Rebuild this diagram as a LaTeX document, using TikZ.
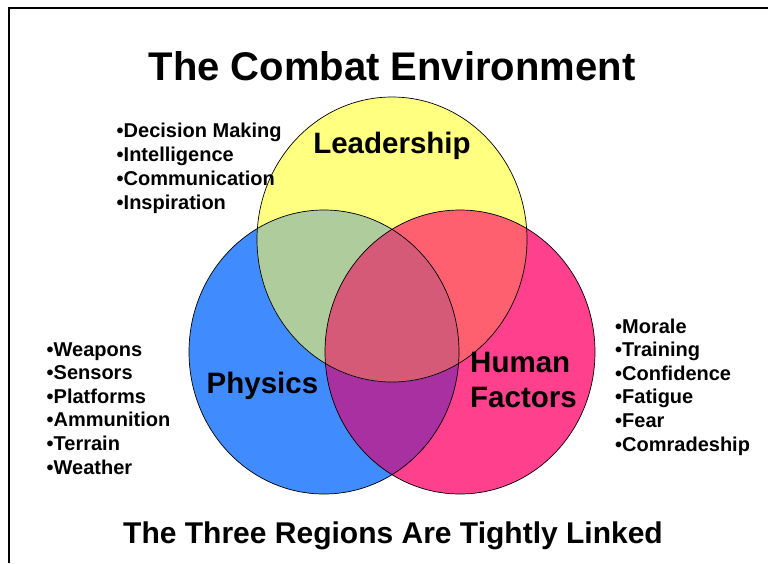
\documentclass[tikz,border=0pt]{standalone}
\usepackage{fontspec}
\setmainfont{Liberation Sans}
\usetikzlibrary{positioning}

\definecolor{physblue}{HTML}{408CFF}
\definecolor{humpink}{HTML}{FF408C}
\definecolor{leadyellow}{HTML}{FFFF80}
\definecolor{blueyellow}{HTML}{AECC9C}
\definecolor{pinkyellow}{HTML}{FF6070}
\definecolor{bluepink}{HTML}{A830A0}
\definecolor{allthree}{HTML}{D45A78}

\begin{document}
\begin{tikzpicture}[x=1pt,y=-1pt,
	title/.style={font=\fontsize{40}{44}\selectfont\bfseries},
	region/.style={font=\fontsize{29.5}{34}\selectfont\bfseries},
	item/.style={font=\fontsize{20}{24}\selectfont\bfseries, anchor=base west, inner sep=0pt},
	rim/.style={draw=black, line width=0.7pt}]
	
	\useasboundingbox (0,0) rectangle (768,563);
	\draw[line width=2pt] (9,563) -- (9,8) -- (768,8);
	
	% the three circles, blue under pink under yellow
	\fill[physblue] (324,352) ellipse [x radius=135pt, y radius=142pt];
	\fill[humpink] (460,352) ellipse [x radius=135pt, y radius=142pt];
	\begin{scope}
		\clip (324,352) ellipse [x radius=135pt, y radius=142pt];
		\fill[bluepink] (460,352) ellipse [x radius=135pt, y radius=142pt];
	\end{scope}
	\fill[leadyellow] (392,239.5) ellipse [x radius=135pt, y radius=142.5pt];
	\begin{scope}
		\clip (392,239.5) ellipse [x radius=135pt, y radius=142.5pt];
		\fill[blueyellow] (324,352) ellipse [x radius=135pt, y radius=142pt];
		\fill[pinkyellow] (460,352) ellipse [x radius=135pt, y radius=142pt];
		\clip (324,352) ellipse [x radius=135pt, y radius=142pt];
		\fill[allthree] (460,352) ellipse [x radius=135pt, y radius=142pt];
	\end{scope}
	\draw[rim] (324,352) ellipse [x radius=135pt, y radius=142pt];
	\draw[rim] (460,352) ellipse [x radius=135pt, y radius=142pt];
	\draw[rim] (392,239.5) ellipse [x radius=135pt, y radius=142.5pt];
	
	% titles
	\node[title, anchor=base] (head) at (392,80) {The Combat Environment};
	\node[region, anchor=base, font=\fontsize{30}{34}\selectfont\bfseries] (foot) at (393,543) {The Three Regions Are Tightly Linked};
	
	% circle names
	\node[region, anchor=base] (lead) at (392,153) {Leadership};
	\node[region, anchor=base] (phys) at (262.5,393) {Physics};
	\node[region, anchor=base west, inner sep=0pt] (human) at (470,372) {Human};
	\node[region, anchor=base west, inner sep=0pt] (factors) at (470,407) {Factors};
	
	% bullet lists
	\foreach \txt [count=\i] in {Decision Making, Intelligence, Communication, Inspiration}
		\node[item] (lead\i) at (116.5,{137+24*(\i-1)}) {•\txt};
	\foreach \txt [count=\i] in {Weapons, Sensors, Platforms, Ammunition, Terrain, Weather}
		\node[item] (phys\i) at (46.5,{356+23.6*(\i-1)}) {•\txt};
	\foreach \txt [count=\i] in {Morale, Training, Confidence, Fatigue, Fear, Comradeship}
		\node[item] (human\i) at (615,{333+23.6*(\i-1)}) {•\txt};
	
\end{tikzpicture}
\end{document}
